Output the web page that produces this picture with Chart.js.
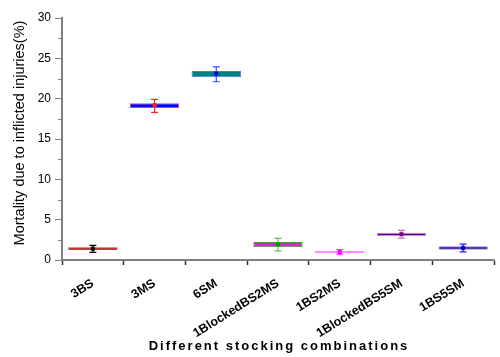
<!DOCTYPE html>
<html>
<head>
<meta charset="utf-8">
<script src="https://cdn.jsdelivr.net/npm/chart.js@4"></script>
<style>
  html, body { margin: 0; padding: 0; background: #fff; }
  #wrap { width: 500px; height: 357px; }
</style>
</head>
<body>
<div id="wrap"><canvas id="mortalidadeChart" width="500" height="357"></canvas></div>
<script>
// categorias e valores
const categorias = ['3BS', '3MS', '6SM', '1BlockedBS2MS', '1BS2MS', '1BlockedBS5SM', '1BS5SM'];
const caixaMin = [1.24, 18.85, 22.65, 1.57, 0.85, 2.97, 1.26];
const caixaMax = [1.57, 19.42, 23.42, 2.23, 1.15, 3.38, 1.72];
const medias = [1.4, 19.2, 23.1, 1.94, 1.0, 3.2, 1.5];
const erroMin = [0.95, 18.3, 22.1, 1.12, 0.72, 2.7, 1.0];
const erroMax = [1.82, 19.9, 23.95, 2.68, 1.3, 3.68, 1.97];
const yTicks = [0, 5, 10, 15, 20, 25, 30];
const tituloX = 'Different stocking combinations';
const tituloY = 'Mortality due to inflicted injuries(%)';

const corFundo = ['#b00000', '#0000ff', '#008080', '#e020e0', '#ff30ff', '#5c0080', '#300070'];
const corBorda = ['#e03030', '#ff4050', '#5070ff', '#30a030', '#ff90ff', '#c890d8', '#8888ff'];
const corErro = ['#000000', '#ff2020', '#3050ff', '#60c060', '#ff30ff', '#c070c0', '#2020ff'];
const corMedia = ['#000000', '#ff2020', '#0000d0', '#208020', '#ff00ff', '#800080', '#0000c0'];

const fonte = "'Liberation Sans', Arial, sans-serif";

// barras de erro, média, ticks menores e títulos dos eixos
const errosPlugin = {
    id: 'erros',
    afterDatasetsDraw(chart) {
        const ctx = chart.ctx;
        const x = chart.scales.x;
        const y = chart.scales.y;
        ctx.save();
        for (let i = 0; i < categorias.length; i++) {
            const px = x.getPixelForValue(i);
            const top = y.getPixelForValue(erroMax[i]);
            const bot = y.getPixelForValue(erroMin[i]);
            ctx.strokeStyle = corErro[i];
            ctx.lineWidth = 1.2;
            ctx.beginPath();
            ctx.moveTo(px, top); ctx.lineTo(px, bot);
            ctx.moveTo(px - 3.5, top); ctx.lineTo(px + 3.5, top);
            ctx.moveTo(px - 3.5, bot); ctx.lineTo(px + 3.5, bot);
            ctx.stroke();
            const pm = y.getPixelForValue(medias[i]);
            ctx.fillStyle = corMedia[i];
            ctx.fillRect(px - 2, pm - 2, 4, 4);
        }
        ctx.strokeStyle = '#808080';
        ctx.lineWidth = 1;
        for (let v = 2.5; v < 30; v += 5) {
            const py = Math.round(y.getPixelForValue(v)) + 0.5;
            ctx.beginPath();
            ctx.moveTo(y.right - 4, py); ctx.lineTo(y.right, py);
            ctx.stroke();
        }
        ctx.restore();
    },
    afterDraw(chart) {
        const ctx = chart.ctx;
        const area = chart.chartArea;
        ctx.save();
        ctx.fillStyle = '#000';
        ctx.textAlign = 'center';
        ctx.textBaseline = 'middle';
        ctx.letterSpacing = '2px';
        ctx.font = 'bold 13px ' + fonte;
        ctx.fillText(tituloX, (area.left + area.right) / 2 + 1, 346);
        ctx.letterSpacing = '0px';
        ctx.font = '14.5px ' + fonte;
        ctx.translate(20, 133);
        ctx.rotate(-Math.PI / 2);
        ctx.fillText(tituloY, 0, 0);
        ctx.restore();
    }
};

const ctx = document.getElementById('mortalidadeChart').getContext('2d');
new Chart(ctx, {
    type: 'bar',
    data: {
        labels: categorias,
        datasets: [{
            data: categorias.map((c, i) => [caixaMin[i], caixaMax[i]]),
            backgroundColor: corFundo,
            borderColor: corBorda,
            borderWidth: 1,
            borderSkipped: false,
            categoryPercentage: 1,
            barPercentage: 0.8
        }]
    },
    options: {
        responsive: false,
        animation: false,
        layout: { padding: { left: 0, top: 18, right: 6, bottom: 0 } },
        plugins: {
            legend: { display: false },
            tooltip: { enabled: false }
        },
        scales: {
            x: {
                offset: true,
                grid: {
                    display: true,
                    drawOnChartArea: false,
                    tickLength: 5,
                    tickColor: '#303030',
                    tickWidth: 1.5
                },
                border: { color: '#808080', width: 2 },
                ticks: {
                    maxRotation: 32,
                    minRotation: 32,
                    color: '#000',
                    padding: 11,
                    font: { family: fonte, size: 12.5, weight: 'bold' }
                },
                afterFit(scale) { scale.height = 97; }
            },
            y: {
                min: 0,
                max: 30,
                afterBuildTicks(scale) { scale.ticks = yTicks.map(v => ({ value: v })); },
                grid: {
                    display: true,
                    drawOnChartArea: false,
                    tickLength: 7,
                    tickColor: '#808080'
                },
                border: { color: '#808080', width: 2 },
                ticks: {
                    color: '#000',
                    padding: 4,
                    font: { family: fonte, size: 12 }
                },
                afterFit(scale) { scale.width = 62; }
            }
        }
    },
    plugins: [errosPlugin]
});
</script>
</body>
</html>
